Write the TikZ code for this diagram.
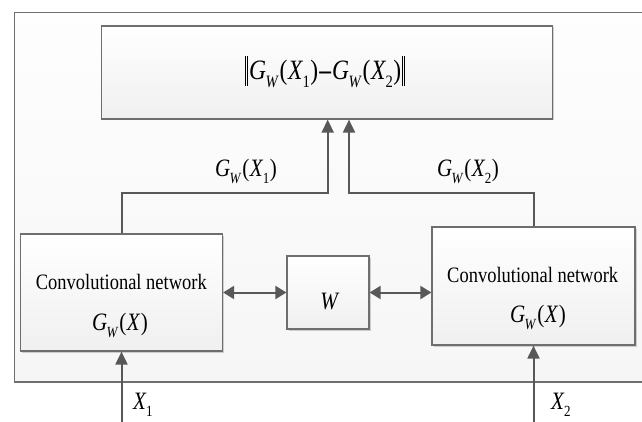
\documentclass[tikz,border=0pt]{standalone}
\usepackage{fontspec}
\setmainfont{Liberation Serif}[FakeStretch=0.84]
\usetikzlibrary{arrows.meta,shadows}

\definecolor{linegray}{RGB}{88,88,88}
\definecolor{edgegray}{RGB}{110,110,110}

% italic symbols with lowered subscripts, set in the main font
\newcommand\subidx[1]{\kern-0.6pt\lower0.28em\hbox{\fontsize{0.62em}{0.62em}\selectfont #1}}
\newcommand\GW{\textit{G}\subidx{\textit{W}}}
\newcommand\Xn[1]{\textit{X}\subidx{#1}}
\newcommand\lp{\kern0.8pt(\kern0.6pt}
\newcommand\rp{\kern0.6pt)}

\tikzset{
  blockbox/.style={draw=edgegray, line width=1.2pt, top color=white, bottom color=gray!12,
    inner sep=0pt, drop shadow={shadow xshift=1.5pt, shadow yshift=-1.5pt, opacity=0.35, fill=gray}},
  flow/.style={draw=linegray, line width=2pt, -{Triangle[length=13pt,width=12pt]}},
  biflow/.style={draw=linegray, line width=2pt, {Triangle[length=11pt,width=13pt]}-{Triangle[length=11pt,width=13pt]}},
  txt/.style={inner sep=0pt, font=\fontsize{22}{26}\selectfont},
  mathtxt/.style={inner sep=0pt, font=\fontsize{25}{29}\selectfont},
}

\begin{document}
\begin{tikzpicture}[x=1pt,y=-1pt]
  \useasboundingbox (0,0) rectangle (642,422);
  \clip (0,0) rectangle (642,422);

  % outer frame
  \draw[draw=edgegray, line width=1.3pt, top color=gray!1, bottom color=gray!7]
    (14.7,12.5) rectangle (700,382);

  % blocks
  \node[blockbox, minimum width=451.5pt, minimum height=93pt] (dist) at (327,72.5) {};
  \node[blockbox, minimum width=202pt, minimum height=117pt] (convL) at (121.5,292.5) {};
  \node[blockbox, minimum width=203pt, minimum height=118pt] (convR) at (533.5,286) {};
  \node[blockbox, minimum width=82pt, minimum height=73pt] (wbox) at (328,292.5) {};

  % block texts
  \node[mathtxt, font=\fontsize{28}{32}\selectfont] (distlbl) at (325,72)
    {\rule[-0.22em]{0.7pt}{1.05em}\kern1.4pt\rule[-0.22em]{0.7pt}{1.05em}\kern1pt\GW\lp\Xn{1}\rp\kern1pt\textbf{--}\kern1pt\GW\lp\Xn{2}\rp\kern0.5pt\rule[-0.22em]{0.7pt}{1.05em}\kern1.4pt\rule[-0.22em]{0.7pt}{1.05em}};
  \node[txt] (convLa) at (121.3,282) {Convolutional network};
  \node[mathtxt] (convLb) at (120,325) {\GW\lp\textit{X}\rp};
  \node[txt] (convRa) at (532.7,275) {Convolutional network};
  \node[mathtxt] (convRb) at (538,317) {\GW\lp\textit{X}\rp};
  \node[mathtxt] (wlbl) at (330,302) {\textit{W}};

  % junction points and inputs
  \coordinate (j1) at (327.7,193);
  \coordinate (j2) at (349,193);
  \coordinate (in1) at (121.5,440);
  \coordinate (in2) at (533.5,440);

  % outputs of the two networks
  \draw[flow] (convL.north) |- (j1) -- (j1 |- dist.south);
  \draw[flow] (convR.north) |- (j2) -- (j2 |- dist.south);
  \node[mathtxt] (out1) at (246,171) {\GW\lp\Xn{1}\rp};
  \node[mathtxt] (out2) at (468,171) {\GW\lp\Xn{2}\rp};

  % shared weights
  \draw[biflow] (wbox.west -| convL.east) -- (wbox.west);
  \draw[biflow] (wbox.east) -- (wbox.east -| convR.west);

  % inputs
  \draw[flow] (in1) -- (convL.south);
  \draw[flow] (in2) -- (convR.south);
  \node[mathtxt, anchor=west] (x1) at (133,405) {\Xn{1}};
  \node[mathtxt, anchor=west] (x2) at (551,405) {\Xn{2}};
\end{tikzpicture}
\end{document}
